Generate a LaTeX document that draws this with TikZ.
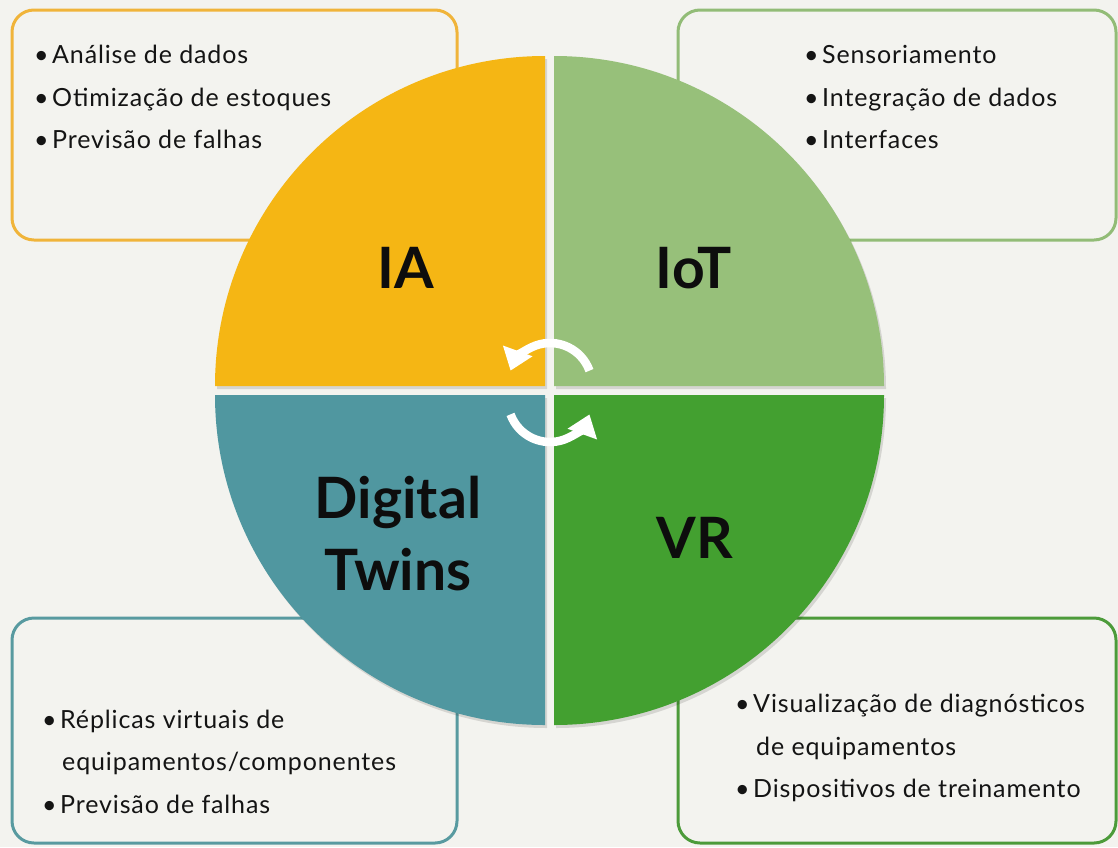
\documentclass[tikz,border=0pt]{standalone}
\usepackage{fontspec}
\setmainfont{Lato}
\newfontfamily\itemfont[LetterSpace=3.5]{Lato}
\usetikzlibrary{arrows.meta,calc}
\definecolor{bgc}{RGB}{243,243,239}
\definecolor{qia}{RGB}{245,182,20}
\definecolor{qiot}{RGB}{151,192,122}
\definecolor{qdt}{RGB}{80,151,160}
\definecolor{qvr}{RGB}{67,160,48}
\definecolor{bia}{RGB}{240,180,58}
\definecolor{biot}{RGB}{146,188,119}
\definecolor{bdt}{RGB}{88,154,160}
\definecolor{bvr}{RGB}{76,155,58}
\newcommand\bul{\makebox[18pt][l]{•}}
\begin{document}
\begin{tikzpicture}[x=1pt,y=-1pt,
  infobox/.style={line width=3pt,rounded corners=22pt},
  itemtxt/.style={anchor=base west,inner sep=0pt,font=\itemfont\fontsize{25}{28}\selectfont,text=black!92},
  biglabel/.style={anchor=base,inner sep=0pt,font=\fontsize{57}{72}\selectfont\bfseries,text=black!95},
  cyc/.style={line width=8.5pt,draw=white,-{Triangle[length=21pt,width=30pt]}},
  shad/.style={fill=black,opacity=0.12}]
\fill[bgc] (0,0) rectangle (1118,847);
\useasboundingbox (0,0) rectangle (1118,847);
% boxes
\draw[infobox,draw=bia] (12,10) rectangle (457,240);
\draw[infobox,draw=biot] (678,10) rectangle (1116,240);
\draw[infobox,draw=bdt] (12,618) rectangle (457,843);
\draw[infobox,draw=bvr] (678,618) rectangle (1116,843);
% quadrant shadows
\begin{scope}[shift={(2,3)}]
\fill[shad] (545,386) -- (215,386) arc[start angle=180,end angle=270,radius=330] -- cycle;
\fill[shad] (554,386) -- (554,56) arc[start angle=270,end angle=360,radius=330] -- cycle;
\fill[shad] (545,395) -- (215,395) arc[start angle=180,end angle=90,radius=330] -- cycle;
\fill[shad] (554,395) -- (884,395) arc[start angle=0,end angle=90,radius=330] -- cycle;
\end{scope}
% quadrants
\fill[qia] (545,386) -- (215,386) arc[start angle=180,end angle=270,radius=330] -- cycle;
\fill[qiot] (554,386) -- (554,56) arc[start angle=270,end angle=360,radius=330] -- cycle;
\fill[qdt] (545,395) -- (215,395) arc[start angle=180,end angle=90,radius=330] -- cycle;
\fill[qvr] (554,395) -- (884,395) arc[start angle=0,end angle=90,radius=330] -- cycle;
% big labels
\node[biglabel] (lia) at (406,288) {IA};
\node[biglabel] (liot) at (694,288) {IoT};
\node[biglabel] (ldt1) at (398,518) {Digital};
\node[biglabel] (ldt2) at (398,590) {Twins};
\node[biglabel] (lvr) at (695,558) {VR};
% cycle arrows
\coordinate (ca) at (550,385);
\coordinate (cb) at (550,400);
\draw[cyc] ($(ca)+(340:42)$) arc[start angle=340,end angle=200,radius=42];
\draw[cyc] ($(cb)+(160:42)$) arc[start angle=160,end angle=20,radius=42];
% IA items
\node[itemtxt] (ia1) at (34,63) {\bul Análise de dados};
\node[itemtxt] (ia2) at (34,106) {\bul Otimização de estoques};
\node[itemtxt] (ia3) at (34,148) {\bul Previsão de falhas};
% IoT items
\node[itemtxt] (io1) at (804,63) {\bul Sensoriamento};
\node[itemtxt] (io2) at (804,106) {\bul Integração de dados};
\node[itemtxt] (io3) at (804,148) {\bul Interfaces};
% DT items
\node[itemtxt] (dt1) at (42,728) {\bul Réplicas virtuais de};
\node[itemtxt] (dt2) at (42,770) {\hspace*{20pt}equipamentos/componentes};
\node[itemtxt] (dt3) at (42,813) {\bul Previsão de falhas};
% VR items
\node[itemtxt] (vr1) at (735,712) {\bul Visualização de diagnósticos};
\node[itemtxt] (vr2) at (735,755) {\hspace*{21pt}de equipamentos};
\node[itemtxt] (vr3) at (735,797) {\bul Dispositivos de treinamento};
\end{tikzpicture}
\end{document}
